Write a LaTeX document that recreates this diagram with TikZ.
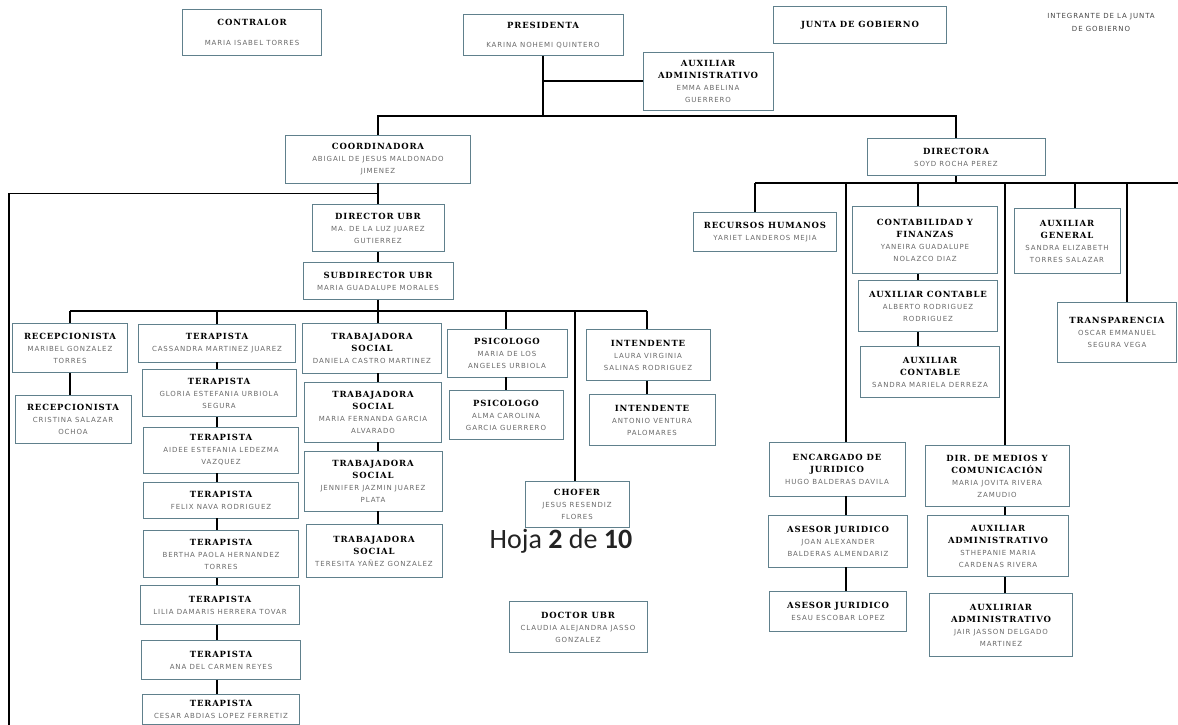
\documentclass[tikz,border=0pt]{standalone}
\usepackage{fontspec}
\newfontfamily\puestofont[LetterSpace=10]{DejaVu Serif}
\newfontfamily\nombrefont[LetterSpace=13]{DejaVu Sans}
\newfontfamily\hojafont{Carlito}
\definecolor{marco}{RGB}{96,128,140}
\definecolor{gris}{RGB}{105,105,105}
\newcommand{\puesto}{\puestofont\bfseries\fontsize{8.5}{10}\selectfont}
\newcommand{\nombre}{\nombrefont\fontsize{7}{8}\selectfont\color{gris}}

\tikzset{every picture/.style={line width=1.5pt}}
\tikzset{cargo/.style={draw=marco, line width=0.9pt, align=center, inner sep=1pt, font=\fontsize{8}{12}\selectfont},
         caja/.style 2 args={cargo, minimum width=#1, minimum height=#2}}

\begin{document}
\begin{tikzpicture}[x=1pt, y=-1pt]
    \useasboundingbox (0,0) rectangle (1178,725);
    % cabeza
    \node[caja={139}{46}] (contralor) at (252,32) {{\puesto CONTRALOR}\\[8pt]{\nombre MARIA ISABEL TORRES}};
    \node[caja={160}{41}] (pres) at (543,35) {{\puesto PRESIDENTA}\\[7pt]{\nombre KARINA NOHEMI QUINTERO}};
    \node[caja={130}{58}] (auxpres) at (708,81) {{\puesto AUXILIAR}\\{\puesto ADMINISTRATIVO}\\{\nombre EMMA ABELINA}\\{\nombre GUERRERO}};
    \node[caja={173}{37}] (junta) at (860,25) {{\puesto JUNTA DE GOBIERNO}};
    \node[align=center, font=\nombrefont\fontsize{7}{13}\selectfont, text={rgb,255:red,70;green,70;blue,70}] (integrante) at (1101,22) {INTEGRANTE DE LA JUNTA\\DE GOBIERNO};
    \node[caja={185}{48}] (coord) at (378,159) {{\puesto COORDINADORA}\\{\nombre ABIGAIL DE JESUS MALDONADO}\\{\nombre JIMENEZ}};
    \node[caja={178}{37}] (dir) at (956,157) {{\puesto DIRECTORA}\\{\nombre SOYD ROCHA PEREZ}};

    % direccion
    \node[caja={143}{39}] (rh) at (765,232) {{\puesto RECURSOS HUMANOS}\\{\nombre YARIET LANDEROS MEJIA}};
    \node[caja={145}{67}] (cont) at (925,240) {{\puesto CONTABILIDAD Y}\\{\puesto FINANZAS}\\{\nombre YANEIRA GUADALUPE}\\{\nombre NOLAZCO DIAZ}};
    \node[caja={139}{51}] (auxc1) at (928,306) {{\puesto AUXILIAR CONTABLE}\\{\nombre ALBERTO RODRIGUEZ}\\{\nombre RODRIGUEZ}};
    \node[caja={139}{51}] (auxc2) at (930,372) {{\puesto AUXILIAR}\\{\puesto CONTABLE}\\{\nombre SANDRA MARIELA DERREZA}};
    \node[caja={106}{65}] (auxgen) at (1067,241) {{\puesto AUXILIAR}\\{\puesto GENERAL}\\{\nombre SANDRA ELIZABETH}\\{\nombre TORRES SALAZAR}};
    \node[caja={119}{60}] (transp) at (1117,332) {{\puesto TRANSPARENCIA}\\{\nombre OSCAR EMMANUEL}\\{\nombre SEGURA VEGA}};
    \node[caja={136}{54}] (jur1) at (837,469) {{\puesto ENCARGADO DE}\\{\puesto JURIDICO}\\{\nombre HUGO BALDERAS DAVILA}};
    \node[caja={139}{52}] (jur2) at (838,541) {{\puesto ASESOR JURIDICO}\\{\nombre JOAN ALEXANDER}\\{\nombre BALDERAS ALMENDARIZ}};
    \node[caja={137}{40}] (jur3) at (838,611) {{\puesto ASESOR JURIDICO}\\{\nombre ESAU ESCOBAR LOPEZ}};
    \node[caja={144}{61}] (med1) at (997,476) {{\puesto DIR. DE MEDIOS Y}\\{\puesto COMUNICACIÓN}\\{\nombre MARIA JOVITA RIVERA}\\{\nombre ZAMUDIO}};
    \node[caja={141}{61}] (med2) at (998,546) {{\puesto AUXILIAR}\\{\puesto ADMINISTRATIVO}\\{\nombre STHEPANIE MARIA}\\{\nombre CARDENAS RIVERA}};
    \node[caja={143}{63}] (med3) at (1001,625) {{\puesto AUXLIRIAR}\\{\puesto ADMINISTRATIVO}\\{\nombre JAIR JASSON DELGADO}\\{\nombre MARTINEZ}};

    % coordinacion
    \node[caja={132}{47}] (dirubr) at (378,228) {{\puesto DIRECTOR UBR}\\{\nombre MA. DE LA LUZ JUAREZ}\\{\nombre GUTIERREZ}};
    \node[caja={150}{37}] (subdir) at (378,281) {{\puesto SUBDIRECTOR UBR}\\{\nombre MARIA GUADALUPE MORALES}};
    \node[caja={115}{49}] (rec1) at (70,348) {{\puesto RECEPCIONISTA}\\{\nombre MARIBEL GONZALEZ}\\{\nombre TORRES}};
    \node[caja={116}{48}] (rec2) at (73,419) {{\puesto RECEPCIONISTA}\\{\nombre CRISTINA SALAZAR}\\{\nombre OCHOA}};
    \node[caja={157}{38}] (ter1) at (217,343) {{\puesto TERAPISTA}\\{\nombre CASSANDRA MARTINEZ JUAREZ}};
    \node[caja={154}{47}] (ter2) at (219,393) {{\puesto TERAPISTA}\\{\nombre GLORIA ESTEFANIA URBIOLA}\\{\nombre SEGURA}};
    \node[caja={155}{46}] (ter3) at (221,450) {{\puesto TERAPISTA}\\{\nombre AIDEE ESTEFANIA LEDEZMA}\\{\nombre VAZQUEZ}};
    \node[caja={155}{36}] (ter4) at (221,500) {{\puesto TERAPISTA}\\{\nombre FELIX NAVA RODRIGUEZ}};
    \node[caja={155}{47}] (ter5) at (221,554) {{\puesto TERAPISTA}\\{\nombre BERTHA PAOLA HERNANDEZ}\\{\nombre TORRES}};
    \node[caja={159}{39}] (ter6) at (220,605) {{\puesto TERAPISTA}\\{\nombre LILIA DAMARIS HERRERA TOVAR}};
    \node[caja={159}{39}] (ter7) at (221,660) {{\puesto TERAPISTA}\\{\nombre ANA DEL CARMEN REYES}};
    \node[caja={157}{30}] (ter8) at (221,709) {{\puesto TERAPISTA}\\{\nombre CESAR ABDIAS LOPEZ FERRETIZ}};
    \node[caja={139}{50}] (ts1) at (372,348) {{\puesto TRABAJADORA}\\{\puesto SOCIAL}\\{\nombre DANIELA CASTRO MARTINEZ}};
    \node[caja={137}{60}] (ts2) at (373,412) {{\puesto TRABAJADORA}\\{\puesto SOCIAL}\\{\nombre MARIA FERNANDA GARCIA}\\{\nombre ALVARADO}};
    \node[caja={138}{60}] (ts3) at (373,481) {{\puesto TRABAJADORA}\\{\puesto SOCIAL}\\{\nombre JENNIFER JAZMIN JUAREZ}\\{\nombre PLATA}};
    \node[caja={136}{53}] (ts4) at (374,551) {{\puesto TRABAJADORA}\\{\puesto SOCIAL}\\{\nombre TERESITA YAÑEZ GONZALEZ}};
    \node[caja={120}{48}] (psi1) at (507,353) {{\puesto PSICOLOGO}\\{\nombre MARIA DE LOS}\\{\nombre ANGELES URBIOLA}};
    \node[caja={114}{49}] (psi2) at (506,415) {{\puesto PSICOLOGO}\\{\nombre ALMA CAROLINA}\\{\nombre GARCIA GUERRERO}};
    \node[caja={104}{46}] (chofer) at (577,504) {{\puesto CHOFER}\\{\nombre JESUS RESENDIZ}\\{\nombre FLORES}};
    \node[caja={124}{51}] (int1) at (648,355) {{\puesto INTENDENTE}\\{\nombre LAURA VIRGINIA}\\{\nombre SALINAS RODRIGUEZ}};
    \node[caja={126}{51}] (int2) at (652,420) {{\puesto INTENDENTE}\\{\nombre ANTONIO VENTURA}\\{\nombre PALOMARES}};
    \node[caja={138}{51}] (doctor) at (578,627) {{\puesto DOCTOR UBR}\\{\nombre CLAUDIA ALEJANDRA JASSO}\\{\nombre GONZALEZ}};
    \node[anchor=base, font=\hojafont\fontsize{28}{30}\selectfont, text={rgb,255:red,35;green,35;blue,35}] (hoja) at (561,548) {Hoja \textbf{2} de \textbf{10}};

    % lineas de arriba
    \coordinate (cima) at (543,116);
    \draw (pres.south) -- (cima);
    \draw (pres.south |- auxpres.west) -- (auxpres.west);
    \draw (coord.north) |- (cima) -| (dir.north);

    % lineas de coordinacion
    \coordinate (borde) at (9,725);
    \draw (coord.south) -- (dirubr.north);
    \draw (coord.south) ++(0,10) -| (borde);
    \draw (dirubr.south) -- (subdir.north);
    \coordinate (barra) at (378,311);
    \coordinate (cR) at (70,311);
    \coordinate (cT) at (217,311);
    \coordinate (cP) at (506,311);
    \coordinate (cC) at (575,311);
    \coordinate (cI) at (647,311);
    \draw (subdir.south) -- (barra);
    \draw (cR) -- (cI);
    \draw (cR) -- (cR |- rec1.north);
    \draw (cR |- rec1.south) -- (cR |- rec2.north);
    \draw (cT) -- (cT |- ter1.north);
    \draw (cT |- ter1.south) -- (cT |- ter2.north);
    \draw (cT |- ter2.south) -- (cT |- ter3.north);
    \draw (cT |- ter3.south) -- (cT |- ter4.north);
    \draw (cT |- ter4.south) -- (cT |- ter5.north);
    \draw (cT |- ter5.south) -- (cT |- ter6.north);
    \draw (cT |- ter6.south) -- (cT |- ter7.north);
    \draw (cT |- ter7.south) -- (cT |- ter8.north);
    \draw (barra) -- (barra |- ts1.north);
    \draw (barra |- ts1.south) -- (barra |- ts2.north);
    \draw (barra |- ts2.south) -- (barra |- ts3.north);
    \draw (barra |- ts3.south) -- (barra |- ts4.north);
    \draw (cP) -- (cP |- psi1.north);
    \draw (cP |- psi1.south) -- (cP |- psi2.north);
    \draw (cC) -- (cC |- chofer.north);
    \draw (cI) -- (cI |- int1.north);
    \draw (cI |- int1.south) -- (cI |- int2.north);

    % lineas de direccion
    \coordinate (riel) at (1178,183);
    \coordinate (xR) at (755,183);
    \coordinate (xJ) at (846,183);
    \coordinate (xC) at (918,183);
    \coordinate (xM) at (1005,183);
    \coordinate (xG) at (1075,183);
    \coordinate (xT) at (1127,183);
    \draw (dir.south) -- (dir.south |- riel);
    \draw (xR) -- (riel);
    \draw (xR) -- (xR |- rh.north);
    \draw (xC) -- (xC |- cont.north);
    \draw (xC |- cont.south) -- (xC |- auxc1.north);
    \draw (xC |- auxc1.south) -- (xC |- auxc2.north);
    \draw (xG) -- (xG |- auxgen.north);
    \draw (xT) -- (xT |- transp.north);
    \draw (xJ) -- (xJ |- jur1.north);
    \draw (xJ |- jur1.south) -- (xJ |- jur2.north);
    \draw (xJ |- jur2.south) -- (xJ |- jur3.north);
    \draw (xM) -- (xM |- med1.north);
    \draw (xM |- med1.south) -- (xM |- med2.north);
    \draw (xM |- med2.south) -- (xM |- med3.north);
\end{tikzpicture}
\end{document}
